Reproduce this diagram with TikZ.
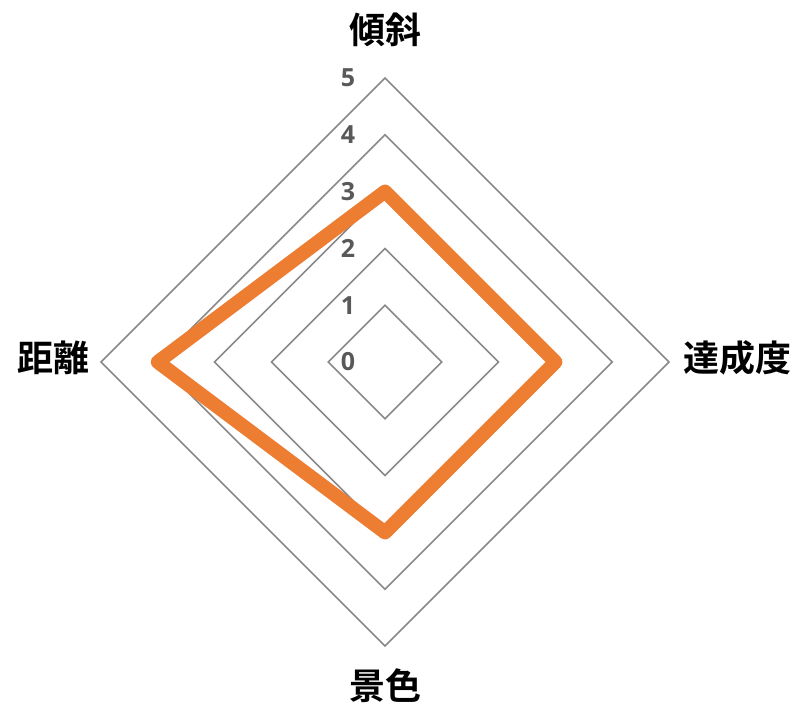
\documentclass[tikz,border=0pt]{standalone}
\usepackage{fontspec}
\usetikzlibrary{calc}
\newfontfamily\cjk{Noto Sans CJK JP Bold}
\newfontfamily\numf{Open Sans}[BoldFont=Open Sans Bold]
\definecolor{gridgray}{HTML}{898989}
\definecolor{tickgray}{HTML}{595959}
\definecolor{series}{HTML}{ED7D31}
\begin{document}
\begin{tikzpicture}[x=1pt,y=-1pt,
  ring/.style={draw=gridgray,line width=1.6pt,line join=miter},
  serie/.style={draw=series,line width=14pt,line join=round},
  ticklab/.style={font=\numf\bfseries\fontsize{25}{25}\selectfont,text=tickgray,inner sep=0pt},
  catlab/.style={font=\cjk\fontsize{36}{36}\selectfont,text=black,inner sep=0pt}]
\useasboundingbox (0,0) rectangle (796,706);
\def\r{56.8}
\coordinate (O) at (385,362);
\foreach \k in {1,...,5}{
  \draw[ring] ($(O)+(0,-\k*\r)$) -- ($(O)+(\k*\r,0)$) -- ($(O)+(0,\k*\r)$) -- ($(O)+(-\k*\r,0)$) -- cycle;
}
\coordinate (pt) at ($(O)+(0,-3*\r)$);
\coordinate (pr) at ($(O)+(3*\r,0)$);
\coordinate (pb) at ($(O)+(0,3*\r)$);
\coordinate (pl) at ($(O)+(-4*\r,0)$);
\draw[serie] (pt) -- (pr) -- (pb) -- (pl) -- cycle;
\foreach \k in {0,...,5}{
  \node[ticklab] (t\k) at ($(348,362)+(0,-\k*\r)$) {\k};
}
\node[catlab] (c1) at (385,30) {傾斜};
\node[catlab] (c2) at (737,358) {達成度};
\node[catlab] (c3) at (385,686) {景色};
\node[catlab] (c4) at (53,358) {距離};
\end{tikzpicture}
\end{document}
